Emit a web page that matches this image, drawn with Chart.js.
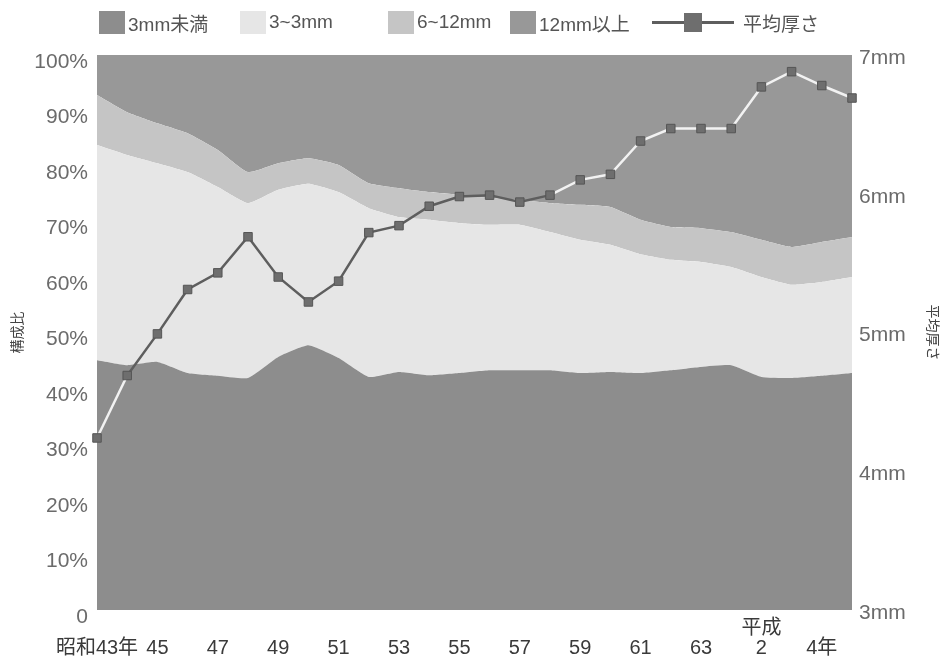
<!doctype html>
<html lang="ja">
<head>
<meta charset="UTF-8" />
<title>厚さ別構成比と平均厚さ</title>
<script src="https://cdn.jsdelivr.net/npm/chart.js"></script>
<style>
  body { margin: 0; background: #fff; font-family: "Liberation Sans", "Noto Sans CJK JP", sans-serif; }
  .wrap { position: relative; width: 946px; height: 663px; }
  #chart { position: absolute; left: 0; top: 0; }
  .legend { position: absolute; left: 0; top: 0; width: 946px; height: 45px; font-size: 19px; color: #555; }
  .item { position: absolute; top: 10px; height: 24px; display: flex; align-items: center; white-space: nowrap; }
  .box { width: 26px; height: 23px; margin-right: 3px; }
  .lineicon { position: relative; width: 82px; height: 23px; margin-right: 9px; }
  .lineicon .ln { position: absolute; left: 0; right: 0; top: 10px; height: 3px; background: #5e5e5e; }
  .lineicon .sq { position: absolute; left: 32px; top: 2px; width: 18px; height: 19px; background: #6e6e6e; }
</style>
</head>
<body>
<div class="wrap">
  <canvas id="chart" width="946" height="663"></canvas>
  <div class="legend">
    <div class="item" style="left:99px"><span class="box" style="background:#8d8d8d"></span>3mm未満</div>
    <div class="item" style="left:240px"><span class="box" style="background:#e6e6e6"></span>3~3mm</div>
    <div class="item" style="left:388px"><span class="box" style="background:#c5c5c5"></span>6~12mm</div>
    <div class="item" style="left:510px"><span class="box" style="background:#989898"></span>12mm以上</div>
    <div class="item" style="left:652px"><span class="lineicon"><span class="ln"></span><span class="sq"></span></span>平均厚さ</div>
  </div>
</div>
<script>
// 昭和43年(1968) ～ 平成5年(1993)
const years = ['昭和43年', '', '45', '', '47', '', '49', '', '51', '', '53', '', '55', '', '57', '', '59', '', '61', '', '63', '', ['平成', '2'], '', '4年', ''];

// 構成比 (%)
const under3 = [45.0, 44.1, 44.7, 42.7, 42.2, 41.8, 45.6, 47.7, 45.4, 42.0, 42.9, 42.3, 42.7, 43.2, 43.2, 43.2, 42.7, 42.9, 42.7, 43.2, 43.8, 44.1, 42.0, 41.8, 42.2, 42.7];
const from3to6 = [38.8, 37.9, 35.8, 36.2, 34.0, 31.5, 30.1, 29.1, 29.9, 30.4, 27.9, 28.0, 27.0, 26.2, 26.2, 24.9, 24.0, 22.9, 21.4, 19.9, 18.9, 17.7, 18.0, 16.8, 16.9, 17.3];
const from6to12 = [9.0, 7.7, 7.2, 7.0, 6.7, 5.6, 4.8, 4.6, 4.9, 4.5, 5.2, 5.0, 5.1, 4.8, 4.5, 5.2, 6.3, 6.8, 6.2, 5.9, 6.1, 6.3, 6.7, 6.8, 7.2, 7.2];
const over12 = [7.2, 10.3, 12.3, 14.1, 17.1, 21.1, 19.5, 18.6, 19.8, 23.1, 24.0, 24.7, 25.2, 25.8, 26.1, 26.7, 27.0, 27.4, 29.7, 31.0, 31.2, 31.9, 33.3, 34.6, 33.7, 32.8];

// 平均厚さ (mm)
const thickness = [4.24, 4.69, 4.99, 5.31, 5.43, 5.69, 5.40, 5.22, 5.37, 5.72, 5.77, 5.91, 5.98, 5.99, 5.94, 5.99, 6.10, 6.14, 6.38, 6.47, 6.47, 6.47, 6.77, 6.88, 6.78, 6.69];

const font = '"Liberation Sans", "Noto Sans CJK JP", sans-serif';

// the line is drawn light where it crosses the dark bands
const topOf6to12 = under3.map((v, i) => v + from3to6[i] + from6to12[i]);
const asPct = t => (t - 3) * 25;
function segColor(ctx) {
  const a = ctx.p0DataIndex, b = ctx.p1DataIndex;
  const mid = (asPct(thickness[a]) + asPct(thickness[b])) / 2;
  const low = (under3[a] + under3[b]) / 2;
  const high = (topOf6to12[a] + topOf6to12[b]) / 2;
  return (mid < low - 0.5 || mid > high + 1) ? '#f2f2f2' : '#5e5e5e';
}

function area(label, data, color, fill) {
  return { label, data, backgroundColor: color, borderWidth: 0, pointRadius: 0, fill, tension: 0.15, yAxisID: 'y', order: 1 };
}

new Chart(document.getElementById('chart'), {
  type: 'line',
  data: {
    labels: years,
    datasets: [
      area('3mm未満', under3, '#8d8d8d', 'origin'),
      area('3~3mm', from3to6, '#e6e6e6', '-1'),
      area('6~12mm', from6to12, '#c5c5c5', '-1'),
      area('12mm以上', over12, '#989898', '-1'),
      {
        label: '平均厚さ',
        data: thickness,
        yAxisID: 'y2',
        order: 0,
        fill: false,
        borderColor: '#5e5e5e',
        borderWidth: 2.5,
        segment: { borderColor: segColor },
        pointStyle: 'rect',
        pointRadius: 6,
        pointBackgroundColor: '#6e6e6e',
        pointBorderColor: '#555',
        pointBorderWidth: 1
      }
    ]
  },
  options: {
    responsive: false,
    animation: false,
    layout: { padding: { top: 55, left: 0, right: 0, bottom: 0 } },
    plugins: { legend: { display: false }, tooltip: { enabled: false } },
    scales: {
      x: {
        grid: { display: false, drawTicks: false },
        border: { display: false },
        afterFit: s => { s.height = 53; },
        ticks: {
          autoSkip: false, maxRotation: 0, crossAlign: 'far', padding: 18,
          color: '#3a3a3a', font: { family: font, size: 20, lineHeight: 1.0 }
        }
      },
      y: {
        stacked: true,
        min: 0, max: 100,
        grid: { display: false, drawTicks: false },
        border: { display: false },
        afterFit: s => { s.width = 97; },
        title: { display: true, text: '構成比', color: '#444', padding: { top: 10, bottom: 0 }, font: { family: font, size: 14 } },
        ticks: {
          stepSize: 10, padding: 9, labelOffset: 7, color: '#6b6b6b',
          font: { family: font, size: 21 },
          callback: v => v === 0 ? '0' : v + '%'
        }
      },
      y2: {
        position: 'right',
        min: 3, max: 7,
        grid: { display: false, drawTicks: false },
        border: { display: false },
        afterFit: s => { s.width = 94; },
        title: { display: true, text: '平均厚さ', color: '#444', padding: { top: 6, bottom: 0 }, font: { family: font, size: 14 } },
        ticks: {
          stepSize: 1, padding: 7, labelOffset: 3, color: '#6b6b6b',
          font: { family: font, size: 21 },
          callback: v => v + 'mm'
        }
      }
    }
  }
});
</script>
</body>
</html>
